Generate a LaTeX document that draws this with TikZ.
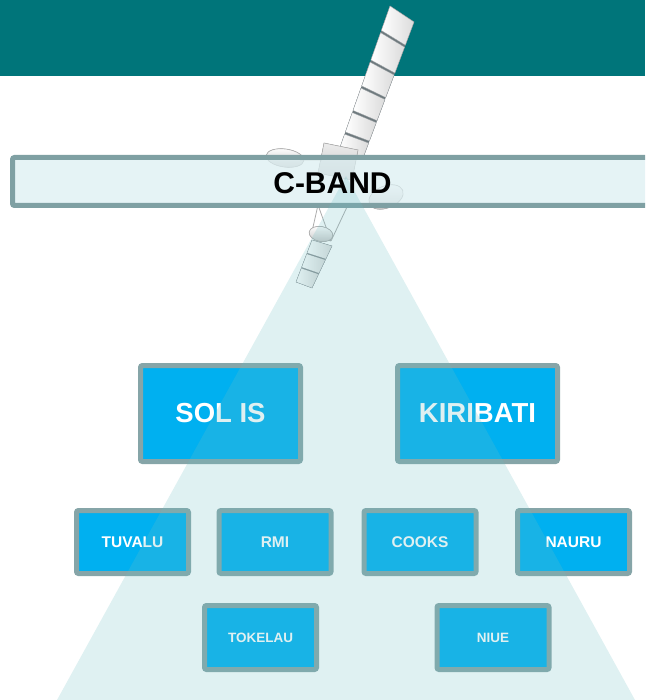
\documentclass[tikz,border=0pt]{standalone}
\usepackage{fontspec}
\setmainfont{Liberation Sans}
\usetikzlibrary{calc}

\definecolor{bandteal}{RGB}{0,117,122}
\definecolor{barfill}{RGB}{219,238,241}
\definecolor{barline}{RGB}{127,160,163}
\definecolor{boxfill}{RGB}{0,176,240}
\definecolor{boxline}{RGB}{134,165,168}
\definecolor{beamcol}{RGB}{111,190,195}
\definecolor{cellline}{RGB}{170,176,180}
\definecolor{cellgap}{RGB}{110,122,126}
\definecolor{hullfill}{RGB}{196,200,204}

\tikzset{
  island/.style={draw=boxline, line width=5pt, fill=boxfill, rounded corners=2pt,
    text=white, inner sep=0pt, align=center},
  bigisland/.style={island, minimum width=160pt, minimum height=96pt,
    font=\bfseries\fontsize{27.5}{30}\selectfont},
  midisland/.style={island, minimum width=112pt, minimum height=63pt,
    font=\bfseries\fontsize{15.5}{17}\selectfont},
  smallisland/.style={island, minimum width=112pt, minimum height=64pt,
    font=\bfseries\fontsize{13.5}{15}\selectfont},
  solarcell/.style={left color=white, right color=gray!28, draw=cellline, line width=0.4pt},
  hull/.style={top color=gray!15, bottom color=gray!45, draw=gray!60, line width=0.6pt},
  dishshape/.style={top color=white, bottom color=gray!45, draw=gray!60, line width=0.7pt},
  truss/.style={draw=gray!65, line width=0.8pt},
  bandbar/.style={fill=barfill, fill opacity=0.72, draw=barline, line width=5pt, rounded corners=2pt},
  beam/.style={fill=beamcol, fill opacity=0.22},
  title/.style={font=\bfseries\fontsize{30}{32}\selectfont, text=black, inner sep=0pt}
}

\begin{document}
\begin{tikzpicture}[x=1pt, y=-1pt]
  \useasboundingbox (0,0) rectangle (645,700);
  \clip (0,0) rectangle (645,700);

  % header band
  \fill[bandteal] (0,0) rectangle (645,76);

  % satellite: upper solar wing
  \coordinate (pA) at (390,6);
  \coordinate (pB) at (414,22);
  \coordinate (pC) at (339,150);
  \coordinate (pD) at (363,158);
  \fill[cellgap] (pA) -- (pB) -- (pD) -- (pC) -- cycle;
  \foreach \s/\e in {0/0.17, 0.185/0.375, 0.39/0.555, 0.57/0.725, 0.74/0.875, 0.89/1} {
    \filldraw[solarcell] ($(pA)!\s!(pC)$) -- ($(pB)!\s!(pD)$) -- ($(pB)!\e!(pD)$) -- ($(pA)!\e!(pC)$) -- cycle;
  }

  % satellite: body and antennas
  \draw[truss] (352,155) -- (345,180);
  \filldraw[hull] (324,143) -- (358,150) -- (352,180) -- (318,173) -- cycle;
  \filldraw[dishshape, rotate around={-8:(285,158)}] (285,158) ellipse (19 and 9);
  \filldraw[dishshape, rotate around={22:(386,197)}] (386,197) ellipse (18 and 11);
  \draw[truss] (300,160) -- (322,160) (368,192) -- (352,178);

  % lower structure
  \draw[truss] (318,205) -- (311,236) (347,207) -- (331,241) (318,205) -- (347,207)
               (311,236) -- (331,241) (318,205) -- (331,241);
  \filldraw[dishshape, rotate around={-10:(321,234)}] (321,234) ellipse (12 and 7.5);

  % satellite: lower solar wing
  \coordinate (qA) at (312,240);
  \coordinate (qB) at (332,246);
  \coordinate (qC) at (296,282);
  \coordinate (qD) at (312,288);
  \fill[cellgap] (qA) -- (qB) -- (qD) -- (qC) -- cycle;
  \foreach \s/\e in {0/0.31, 0.33/0.65, 0.67/1} {
    \filldraw[solarcell] ($(qA)!\s!(qC)$) -- ($(qB)!\s!(qD)$) -- ($(qB)!\e!(qD)$) -- ($(qA)!\e!(qC)$) -- cycle;
  }

  % title bar
  \draw[bandbar] (12.5,157.5) rectangle (670,205.5);

  % island boxes
  \node[bigisland] (solis) at (220.5,413.5) {SOL IS};
  \node[bigisland] (kiribati) at (477.5,413.5) {KIRIBATI};

  \node[midisland] (tuvalu) at (132.5,542) {TUVALU};
  \node[midisland] (rmi) at (275,542) {RMI};
  \node[midisland] (cooks) at (420,542) {COOKS};
  \node[midisland] (nauru) at (573.5,542) {NAURU};

  \node[smallisland] (tokelau) at (260.5,637.5) {TOKELAU};
  \node[smallisland] (niue) at (493,637.5) {NIUE};

  % coverage beam
  \coordinate (apex) at (346,176);
  \coordinate (beamL) at (57,700);
  \coordinate (beamR) at (635,700);
  \fill[beam] (apex) -- (beamR) -- (beamL) -- cycle;

  % title text
  \node[title] (cband) at (332.5,183) {C-BAND};
\end{tikzpicture}
\end{document}
